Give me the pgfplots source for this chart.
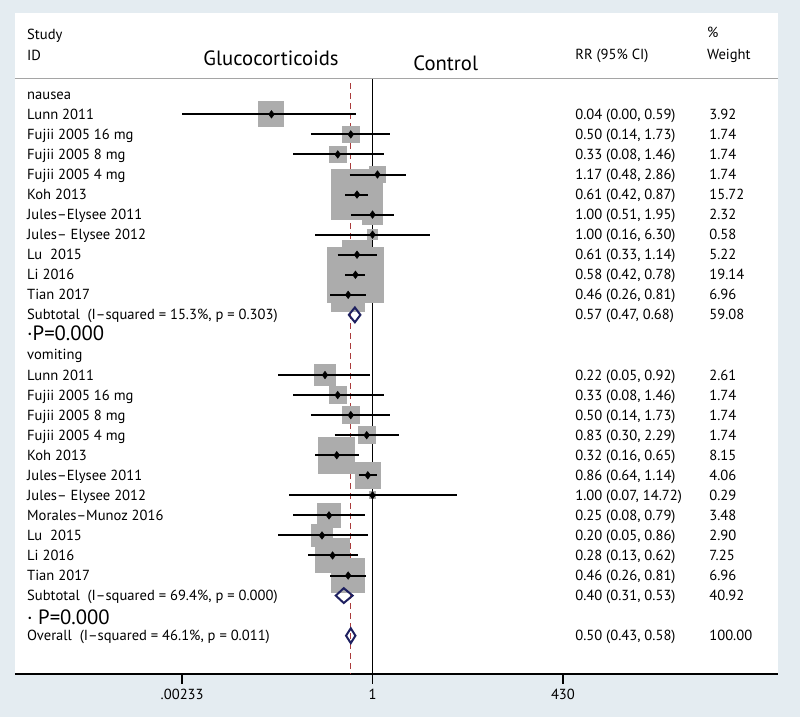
\documentclass[border=0pt]{standalone}
\usepackage{pgfplots}
\usepackage{pgfplotstable}
\pgfplotsset{compat=1.18}
\usepackage{fontspec}
\setmainfont{PT Sans}
\definecolor{bgblue}{RGB}{228,236,241}
\definecolor{boxgray}{RGB}{172,172,172}
\definecolor{navy}{RGB}{30,32,96}
\definecolor{dashred}{RGB}{170,60,60}
\definecolor{hdrgray}{RGB}{165,165,165}
\newcommand\bodyfont{\fontsize{10.95}{13}\selectfont}
\newcommand\bigfont{\fontsize{15.5}{18}\selectfont}
\newcommand\pfont{\fontsize{15.5}{18}\selectfont}
\pgfplotstableread{
y   rr    lo      hi     w
-1  0.04  0.00233 0.59   3.92
-2  0.50  0.14    1.73   1.74
-3  0.33  0.08    1.46   1.74
-4  1.17  0.48    2.86   1.74
-5  0.61  0.42    0.87   15.72
-6  1.00  0.51    1.95   2.32
-7  1.00  0.16    6.30   0.58
-8  0.61  0.33    1.14   5.22
-9  0.58  0.42    0.78   19.14
-10 0.46  0.26    0.81   6.96
-14 0.22  0.05    0.92   2.61
-15 0.33  0.08    1.46   1.74
-16 0.50  0.14    1.73   1.74
-17 0.83  0.30    2.29   1.74
-18 0.32  0.16    0.65   8.15
-19 0.86  0.64    1.14   4.06
-20 1.00  0.07    14.72  0.29
-21 0.25  0.08    0.79   3.48
-22 0.20  0.05    0.86   2.90
-23 0.28  0.13    0.62   7.25
-24 0.46  0.26    0.81   6.96
}\studies
\newcommand\wbox[3]{\addplot[only marks, mark=square*, mark size={4.74*sqrt(#3)},
  mark options={draw=boxgray, fill=boxgray, line width=0pt}] coordinates {(#1,#2)};}
\newcommand\lab[2]{\node[anchor=base west,font=\bodyfont,inner sep=0pt] at (axis cs:1.66e-5,#1) {#2};}
\newcommand\rr[3]{\node[anchor=base west,font=\bodyfont,inner sep=0pt] at (axis cs:632,#1) {#2};
  \node[anchor=base west,font=\bodyfont,inner sep=0pt] at (axis cs:45100,#1) {#3};}
\begin{document}
\begin{tikzpicture}
\fill[bgblue] (-11.25pt,-32.25pt) rectangle (588.75pt,505.5pt);
\begin{axis}[
  at={(0pt,0pt)}, anchor=south west, scale only axis,
  width=572.25pt, height=495.75pt,
  xmode=log, xmin=1.135e-5, xmax=4.05e5,
  ymin=-28.91, ymax=4.055,
  clip=false, clip mode=individual,
  axis background/.style={fill=white},
  axis x line*=bottom, axis y line=none,
  x axis line style={line width=1.1pt,-},
  xtick={0.00233,1,430}, xticklabels={.00233,1,430},
  minor xtick={}, ytick=\empty,
  tick align=outside, major tick length=7.5pt,
  tick style={black,line width=1.1pt},
  xticklabel style={font=\bodyfont},
  /pgf/number format/assume math mode=true,
]
% header rule and reference lines
\addplot[hdrgray, line width=0.8pt] coordinates {(1.135e-5,0.80) (4.05e5,0.80)};
\addplot[black, line width=1.1pt] coordinates {(1,0.76) (1,-28.91)};
\addplot[dashred, line width=1pt, dash pattern=on 4.5pt off 3pt] coordinates {(0.50,0.56) (0.50,-28.91)};
% weight boxes (RR, row, % weight)
\wbox{0.04}{-1}{3.92}
\wbox{0.50}{-2}{1.74}
\wbox{0.33}{-3}{1.74}
\wbox{1.17}{-4}{1.74}
\wbox{0.61}{-5}{15.72}
\wbox{1.00}{-6}{2.32}
\wbox{1.00}{-7}{0.58}
\wbox{0.61}{-8}{5.22}
\wbox{0.58}{-9}{19.14}
\wbox{0.46}{-10}{6.96}
\wbox{0.22}{-14}{2.61}
\wbox{0.33}{-15}{1.74}
\wbox{0.50}{-16}{1.74}
\wbox{0.83}{-17}{1.74}
\wbox{0.32}{-18}{8.15}
\wbox{0.86}{-19}{4.06}
\wbox{1.00}{-20}{0.29}
\wbox{0.25}{-21}{3.48}
\wbox{0.20}{-22}{2.90}
\wbox{0.28}{-23}{7.25}
\wbox{0.46}{-24}{6.96}
% confidence intervals
\addplot[black, line width=1.5pt, unbounded coords=jump] coordinates {
(0.00233,-1) (0.59,-1) (nan,nan)
(0.14,-2) (1.73,-2) (nan,nan)
(0.08,-3) (1.46,-3) (nan,nan)
(0.48,-4) (2.86,-4) (nan,nan)
(0.42,-5) (0.87,-5) (nan,nan)
(0.51,-6) (1.95,-6) (nan,nan)
(0.16,-7) (6.30,-7) (nan,nan)
(0.33,-8) (1.14,-8) (nan,nan)
(0.42,-9) (0.78,-9) (nan,nan)
(0.26,-10) (0.81,-10) (nan,nan)
(0.05,-14) (0.92,-14) (nan,nan)
(0.08,-15) (1.46,-15) (nan,nan)
(0.14,-16) (1.73,-16) (nan,nan)
(0.30,-17) (2.29,-17) (nan,nan)
(0.16,-18) (0.65,-18) (nan,nan)
(0.64,-19) (1.14,-19) (nan,nan)
(0.07,-20) (14.72,-20) (nan,nan)
(0.08,-21) (0.79,-21) (nan,nan)
(0.05,-22) (0.86,-22) (nan,nan)
(0.13,-23) (0.62,-23) (nan,nan)
(0.26,-24) (0.81,-24)
};
% point estimates
\addplot[only marks, mark=diamond*, mark size=2.8pt, black] table[x=rr, y=y] {\studies};
% pooled diamonds
\addplot[navy, line width=1.5pt] coordinates {(0.47,-11) (0.57,-10.63) (0.68,-11) (0.57,-11.37) (0.47,-11)} -- cycle;
\addplot[navy, line width=1.5pt] coordinates {(0.31,-25) (0.40,-24.63) (0.53,-25) (0.40,-25.37) (0.31,-25)} -- cycle;
\addplot[navy, line width=1.5pt] coordinates {(0.43,-27) (0.50,-26.63) (0.58,-27) (0.50,-27.37) (0.43,-27)} -- cycle;
% header text
\lab{2.74}{Study}
\lab{1.71}{ID}
\node[anchor=base,font=\bigfont,inner sep=0pt] at (axis cs:0.0395,1.46) {Glucocorticoids};
\node[anchor=base,font=\bigfont,inner sep=0pt] at (axis cs:10.29,1.21) {Control};
\node[anchor=base west,font=\bodyfont,inner sep=0pt] at (axis cs:632,1.75) {RR (95\% CI)};
\node[anchor=base west,font=\bodyfont,inner sep=0pt] at (axis cs:41900,2.84) {\%};
\node[anchor=base west,font=\bodyfont,inner sep=0pt] at (axis cs:41900,1.75) {Weight};
% left labels
\lab{-0.25}{nausea}
\lab{-1.25}{Lunn 2011}
\lab{-2.25}{Fujii 2005 16 mg}
\lab{-3.25}{Fujii 2005 8 mg}
\lab{-4.25}{Fujii 2005 4 mg}
\lab{-5.25}{Koh 2013}
\lab{-6.25}{Jules–Elysee 2011}
\lab{-7.25}{Jules– Elysee 2012}
\lab{-8.25}{Lu\ \ 2015}
\lab{-9.25}{Li 2016}
\lab{-10.25}{Tian 2017}
\lab{-11.25}{Subtotal\ \ (I–squared = 15.3\%, p = 0.303)}
\node[anchor=base west,font=\pfont,inner sep=0pt] at (axis cs:1.66e-5,-12.29) {·P=0.000};
\lab{-13.25}{vomiting}
\lab{-14.25}{Lunn 2011}
\lab{-15.25}{Fujii 2005 16 mg}
\lab{-16.25}{Fujii 2005 8 mg}
\lab{-17.25}{Fujii 2005 4 mg}
\lab{-18.25}{Koh 2013}
\lab{-19.25}{Jules–Elysee 2011}
\lab{-20.25}{Jules– Elysee 2012}
\lab{-21.25}{Morales–Munoz 2016}
\lab{-22.25}{Lu\ \ 2015}
\lab{-23.25}{Li 2016}
\lab{-24.25}{Tian 2017}
\lab{-25.25}{Subtotal\ \ (I–squared = 69.4\%, p = 0.000)}
\node[anchor=base west,font=\pfont,inner sep=0pt] at (axis cs:1.66e-5,-26.42) {· P=0.000};
\lab{-27.25}{Overall\ \ (I–squared = 46.1\%, p = 0.011)}
% right columns
\rr{-1.25}{0.04 (0.00, 0.59)}{3.92}
\rr{-2.25}{0.50 (0.14, 1.73)}{1.74}
\rr{-3.25}{0.33 (0.08, 1.46)}{1.74}
\rr{-4.25}{1.17 (0.48, 2.86)}{1.74}
\rr{-5.25}{0.61 (0.42, 0.87)}{15.72}
\rr{-6.25}{1.00 (0.51, 1.95)}{2.32}
\rr{-7.25}{1.00 (0.16, 6.30)}{0.58}
\rr{-8.25}{0.61 (0.33, 1.14)}{5.22}
\rr{-9.25}{0.58 (0.42, 0.78)}{19.14}
\rr{-10.25}{0.46 (0.26, 0.81)}{6.96}
\rr{-11.25}{0.57 (0.47, 0.68)}{59.08}
\rr{-14.25}{0.22 (0.05, 0.92)}{2.61}
\rr{-15.25}{0.33 (0.08, 1.46)}{1.74}
\rr{-16.25}{0.50 (0.14, 1.73)}{1.74}
\rr{-17.25}{0.83 (0.30, 2.29)}{1.74}
\rr{-18.25}{0.32 (0.16, 0.65)}{8.15}
\rr{-19.25}{0.86 (0.64, 1.14)}{4.06}
\rr{-20.25}{1.00 (0.07, 14.72)}{0.29}
\rr{-21.25}{0.25 (0.08, 0.79)}{3.48}
\rr{-22.25}{0.20 (0.05, 0.86)}{2.90}
\rr{-23.25}{0.28 (0.13, 0.62)}{7.25}
\rr{-24.25}{0.46 (0.26, 0.81)}{6.96}
\rr{-25.25}{0.40 (0.31, 0.53)}{40.92}
\rr{-27.25}{0.50 (0.43, 0.58)}{100.00}
\end{axis}
\end{tikzpicture}
\end{document}
